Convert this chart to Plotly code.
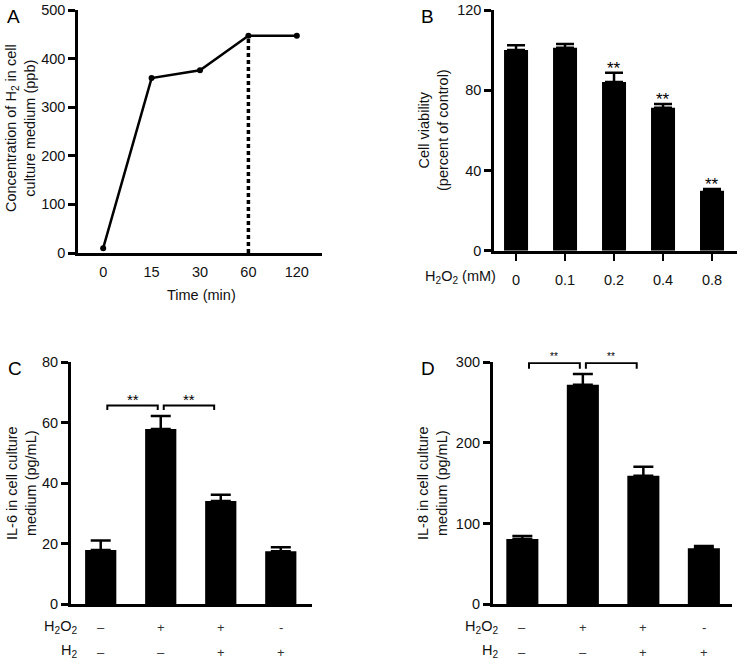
import plotly.graph_objects as go

W, H = 740, 660
FONT = "Liberation Sans, Arial, sans-serif"

# ---------------- data ----------------
# Panel A
time_labels = ["0", "15", "30", "60", "120"]
h2_conc = [10, 360, 376, 447, 447]
plateau_index = 3  # 60 min

# Panel B
h2o2_doses = ["0", "0.1", "0.2", "0.4", "0.8"]
viability = [100, 101.2, 84.1, 71.3, 29.9]
viability_sem = [2.4, 1.8, 4.6, 1.8, 0.9]
viability_sig = ["", "", "**", "**", "**"]

# Panels C and D (groups)
h2o2_row = ["–", "+", "+", "-"]
h2_row = ["–", "–", "+", "+"]

il6 = [17.9, 57.9, 34.1, 17.5]
il6_sem = [3.1, 4.3, 2.1, 1.3]
il6_pairs = [(0, 1), (1, 2)]
il6_pair_sig = ["**", "**"]
il6_bracket_y = 65.7

il8 = [80.7, 272, 159.3, 69.1]
il8_sem = [3.7, 13.6, 11.2, 2.9]
il8_pairs = [(0, 1), (1, 2)]
il8_pair_sig = ["**", "**"]
il8_bracket_y = 299

# ---------------- helpers ----------------
def px_x(p):
    return p / W


def px_y(p):
    return 1 - p / H


fig = go.Figure()

# Panel A
xa = list(range(len(time_labels)))
fig.add_trace(go.Scatter(x=[xa[plateau_index], xa[plateau_index]], y=[0, h2_conc[plateau_index]],
                         mode="lines", line=dict(color="black", width=3.5, dash="4px,3px"),
                         xaxis="x", yaxis="y", hoverinfo="skip"))
fig.add_trace(go.Scatter(x=xa, y=h2_conc, mode="lines+markers",
                         line=dict(color="black", width=2.5),
                         marker=dict(color="black", size=6),
                         cliponaxis=False, xaxis="x", yaxis="y"))

# Panel B
xb = list(range(len(h2o2_doses)))
fig.add_trace(go.Bar(x=xb, y=viability, width=0.49, marker=dict(color="black", line=dict(width=0)),
                     error_y=dict(type="data", symmetric=False, array=viability_sem,
                                  arrayminus=[0] * len(viability), color="black",
                                  thickness=2.5, width=9),
                     xaxis="x2", yaxis="y2"))

# Panel C
xc = list(range(len(il6)))
fig.add_trace(go.Bar(x=xc, y=il6, width=0.52, marker=dict(color="black", line=dict(width=0)),
                     error_y=dict(type="data", symmetric=False, array=il6_sem,
                                  arrayminus=[0] * len(il6), color="black",
                                  thickness=2.5, width=10),
                     xaxis="x3", yaxis="y3"))

# Panel D
xd = list(range(len(il8)))
fig.add_trace(go.Bar(x=xd, y=il8, width=0.53, marker=dict(color="black", line=dict(width=0)),
                     error_y=dict(type="data", symmetric=False, array=il8_sem,
                                  arrayminus=[0] * len(il8), color="black",
                                  thickness=2.5, width=10),
                     xaxis="x4", yaxis="y4"))

ax_common = dict(showline=True, linecolor="black", linewidth=2.5, showgrid=False, zeroline=False,
                 tickfont=dict(family=FONT, size=14.5, color="#111"), mirror=False,
                 automargin=False)
yt = dict(ticks="outside", ticklen=7, tickwidth=2.5, tickcolor="black")

fig.update_layout(
    template="none",
    width=W, height=H, margin=dict(l=0, r=0, t=0, b=0, pad=0),
    paper_bgcolor="white", plot_bgcolor="white", showlegend=False,
    font=dict(family=FONT, size=14, color="#111"),
    xaxis=dict(**ax_common, domain=[px_x(78), px_x(322)], range=[-0.52, 4.52],
               tickvals=xa, ticktext=time_labels, ticks="outside", ticklen=4,
               tickcolor="rgba(0,0,0,0)", anchor="y"),
    yaxis=dict(**ax_common, **yt, domain=[px_y(253), px_y(10)], range=[0, 500], dtick=100, anchor="x"),
    xaxis2=dict(**ax_common, domain=[px_x(494), px_x(737)], range=[-0.45, 4.51],
                tickvals=xb, ticktext=h2o2_doses, ticks="outside", ticklen=8, tickwidth=2,
                tickcolor="black", ticklabelstandoff=6, anchor="y2"),
    yaxis2=dict(**ax_common, **yt, domain=[px_y(250.7), px_y(10)], range=[0, 120], dtick=40, anchor="x2"),
    xaxis3=dict(**ax_common, domain=[px_x(70.7), px_x(312)], range=[-0.5, 3.52],
                showticklabels=False, ticks="", anchor="y3"),
    yaxis3=dict(**ax_common, **yt, domain=[px_y(604), px_y(362.3)], range=[0, 80], dtick=20, anchor="x3"),
    xaxis4=dict(**ax_common, domain=[px_x(492.7), px_x(731.7)], range=[-0.49, 3.46],
                showticklabels=False, ticks="", anchor="y4"),
    yaxis4=dict(**ax_common, **yt, domain=[px_y(604), px_y(362.3)], range=[0, 300], dtick=100, anchor="x4"),
)

ann = []
txt = dict(family=FONT, size=14.5, color="#111")

# panel letters
for letter, x, y in [("A", 13, 16), ("B", 427, 16), ("C", 15, 368), ("D", 428, 368)]:
    ann.append(dict(text=letter, x=px_x(x), y=px_y(y), xref="paper", yref="paper",
                    showarrow=False, xanchor="center", yanchor="middle",
                    font=dict(family=FONT, size=19, color="black")))

# axis titles
ann.append(dict(text="Concentration of H<sub>2</sub> in cell<br>culture medium (ppb)",
                x=px_x(20), y=px_y(128), xref="paper", yref="paper", textangle=-90,
                showarrow=False, xanchor="center", yanchor="middle", font=txt))
ann.append(dict(text="Time (min)", x=px_x(201), y=px_y(295), xref="paper", yref="paper",
                showarrow=False, xanchor="center", yanchor="middle", font=txt))
ann.append(dict(text="Cell viability<br>(percent of control)",
                x=px_x(433), y=px_y(130), xref="paper", yref="paper", textangle=-90,
                showarrow=False, xanchor="center", yanchor="middle", font=txt))
ann.append(dict(text="H<sub>2</sub>O<sub>2</sub> (mM)", x=px_x(498), y=px_y(277),
                xref="paper", yref="paper", showarrow=False, xanchor="right",
                yanchor="middle", font=txt))
ann.append(dict(text="IL-6 in cell culture<br>medium (pg/mL)",
                x=px_x(21), y=px_y(483), xref="paper", yref="paper", textangle=-90,
                showarrow=False, xanchor="center", yanchor="middle", font=txt))
ann.append(dict(text="IL-8 in cell culture<br>medium (pg/mL)",
                x=px_x(432), y=px_y(483), xref="paper", yref="paper", textangle=-90,
                showarrow=False, xanchor="center", yanchor="middle", font=txt))

# significance stars in B
for xi, v, e, s in zip(xb, viability, viability_sem, viability_sig):
    if s:
        ann.append(dict(text=s, x=xi, y=v + e, xref="x2", yref="y2", showarrow=False,
                        xanchor="center", yanchor="bottom", yshift=-7,
                        font=dict(family=FONT, size=17, color="black")))

# treatment tables under C and D
for xref, lab_x in [("x3", 79), ("x4", 500)]:
    ann.append(dict(text="H<sub>2</sub>O<sub>2</sub>", x=px_x(lab_x), y=px_y(627), xref="paper",
                    yref="paper", showarrow=False, xanchor="right", yanchor="middle", font=txt))
    ann.append(dict(text="H<sub>2</sub>", x=px_x(lab_x), y=px_y(651), xref="paper",
                    yref="paper", showarrow=False, xanchor="right", yanchor="middle", font=txt))
    for i, (a, b) in enumerate(zip(h2o2_row, h2_row)):
        ann.append(dict(text=a, x=i, y=px_y(627), xref=xref, yref="paper", showarrow=False,
                        xanchor="center", yanchor="middle", font=dict(family=FONT, size=13, color="#333")))
        ann.append(dict(text=b, x=i, y=px_y(652), xref=xref, yref="paper", showarrow=False,
                        xanchor="center", yanchor="middle", font=dict(family=FONT, size=13, color="#333")))

# comparison brackets
insets = [(0.11, 0.05), (0.05, 0.11)]
shapes = []
for xref, yref, pairs, sigs, by, drop, ssize, sshift in [
        ("x3", "y3", il6_pairs, il6_pair_sig, il6_bracket_y, 1.5, 15, -4),
        ("x4", "y4", il8_pairs, il8_pair_sig, il8_bracket_y, 7.0, 10, -1)]:
    for (a, b), s, (ia, ib) in zip(pairs, sigs, insets):
        x0, x1 = a + ia, b - ib
        shapes.append(dict(type="path", xref=xref, yref=yref,
                           path=f"M {x0},{by - drop} L {x0},{by} L {x1},{by} L {x1},{by - drop}",
                           line=dict(color="black", width=2)))
        ann.append(dict(text=s, x=(x0 + x1) / 2, y=by, xref=xref, yref=yref, showarrow=False,
                        xanchor="center", yanchor="bottom", yshift=sshift,
                        font=dict(family=FONT, size=ssize, color="black")))

fig.update_layout(annotations=ann, shapes=shapes)
fig.write_html("out.html", config={"displayModeBar": False},
               post_script="document.body.style.margin='0';document.body.style.padding='0';")
